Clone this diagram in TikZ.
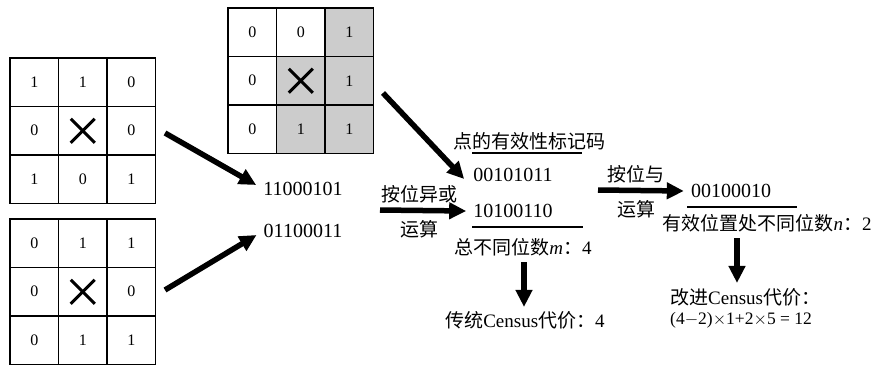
\documentclass[tikz,border=0pt]{standalone}
\usepackage{fontspec}
\setmainfont{Liberation Serif}
\newfontfamily\cjk{Noto Sans CJK SC}
\usetikzlibrary{arrows.meta,calc}
\begin{document}
\begin{tikzpicture}[x=1pt,y=-1pt,
  bigarrow/.style={line width=5.5pt,-{Triangle[length=17pt,width=16pt]}},
  cell/.style={draw,line width=1.2pt,minimum size=48.5pt,inner sep=0pt,font=\fontsize{16}{16}\selectfont},
  crossline/.style={line width=3pt},
  bin/.style={font=\fontsize{20}{20}\selectfont,inner sep=1pt},
  lab/.style={font=\fontsize{19}{19}\selectfont,inner sep=1pt},
  zh/.style={font=\cjk\fontsize{19}{19}\selectfont,inner sep=1pt},
  small/.style={font=\fontsize{17.5}{17.5}\selectfont,inner sep=1pt},
  rule/.style={line width=1.2pt}]
\useasboundingbox (0,0) rectangle (875,367);
% grid 1
\foreach \v [count=\i from 0] in {1,1,0,0,{},0,1,0,1} {
  \pgfmathtruncatemacro\r{div(\i,3)}
  \pgfmathtruncatemacro\c{mod(\i,3)}
  \node[cell] (a\i) at ({10+48.5*(\c+0.5)},{58+48.5*(\r+0.5)}) {\v};
}
\draw[crossline] ($(a4.center)+(-12,-12)$) -- ($(a4.center)+(12,12)$);
\draw[crossline] ($(a4.center)+(-12,12)$) -- ($(a4.center)+(12,-12)$);
% grid 2
\foreach \v [count=\i from 0] in {0,1,1,0,{},0,0,1,1} {
  \pgfmathtruncatemacro\r{div(\i,3)}
  \pgfmathtruncatemacro\c{mod(\i,3)}
  \node[cell] (b\i) at ({10+48.5*(\c+0.5)},{219+48.5*(\r+0.5)}) {\v};
}
\draw[crossline] ($(b4.center)+(-12,-12)$) -- ($(b4.center)+(12,12)$);
\draw[crossline] ($(b4.center)+(-12,12)$) -- ($(b4.center)+(12,-12)$);
% grid 3
\foreach \v/\s [count=\i from 0] in {0/white,0/white,1/gray!40,0/white,{}/gray!40,1/gray!40,0/white,1/gray!40,1/gray!40} {
  \pgfmathtruncatemacro\r{div(\i,3)}
  \pgfmathtruncatemacro\c{mod(\i,3)}
  \node[cell,fill=\s] (c\i) at ({228+48.5*(\c+0.5)},{8+48.5*(\r+0.5)}) {\v};
}
\draw[crossline] ($(c4.center)+(-12,-12)$) -- ($(c4.center)+(12,12)$);
\draw[crossline] ($(c4.center)+(-12,12)$) -- ($(c4.center)+(12,-12)$);
% census strings
\node[bin] (s1) at (303,189) {11000101};
\node[bin] (s2) at (303,231) {01100011};
\coordinate (g1) at (165,133);
\coordinate (g2) at (165,290);
\draw[bigarrow] (g1) -- ([xshift=-6pt,yshift=4pt]s1.west);
\draw[bigarrow] (g2) -- ([xshift=-6pt,yshift=-4pt]s2.west);
% xor
\node[zh] (xor1) at (419,194) {按位异或};
\node[zh] (xor2) at (419,229) {运算};
\coordinate (x0) at (380,210);
\node[zh] (valid) at (529,141) {点的有效性标记码};
\node[bin] (v1) at (513,175) {00101011};
\node[bin] (v2) at (513,211) {10100110};
\draw[rule] (472,153) coordinate (r1a) -- (582,153) coordinate (r1b);
\draw[rule] (472,227) coordinate (r2a) -- (583,227) coordinate (r2b);
\node[lab] (m) at (523,247) {{\cjk 总不同位数}\textit{m}{\cjk ：}4};
\coordinate (g3) at (383,93);
\draw[bigarrow] (g3) -- ([xshift=-8pt,yshift=-4pt]v1.west);
\draw[bigarrow] (x0) -- ([xshift=-6pt]v2.west);
% traditional cost
\node[lab] (trad) at (525,320) {{\cjk 传统}Census{\cjk 代价：}4};
\coordinate (d1) at (524,262);
\draw[bigarrow] (d1) -- ($(d1 |- trad.north)+(0,-3)$);
% and
\node[zh] (and1) at (636,174) {按位与};
\node[zh] (and2) at (636,209) {运算};
\coordinate (x1) at (598,190);
\node[bin] (w) at (731,191) {00100010};
\draw[rule] (687,207) coordinate (r3a) -- (797,207) coordinate (r3b);
\draw[bigarrow] (x1) -- ([xshift=-6pt]w.west);
\node[lab] (n) at (767,223) {{\cjk 有效位置处不同位数}\textit{n}{\cjk ：}2};
\node[lab,anchor=west] (imp) at (669,297) {{\cjk 改进}Census{\cjk 代价：}};
\node[small,anchor=west] (form) at (669,320) {(4$-$2)$\times$1+2$\times$5 = 12};
\coordinate (d2) at (737,238);
\draw[bigarrow] (d2) -- ($(d2 |- imp.north)+(0,-4)$);
\end{tikzpicture}
\end{document}
